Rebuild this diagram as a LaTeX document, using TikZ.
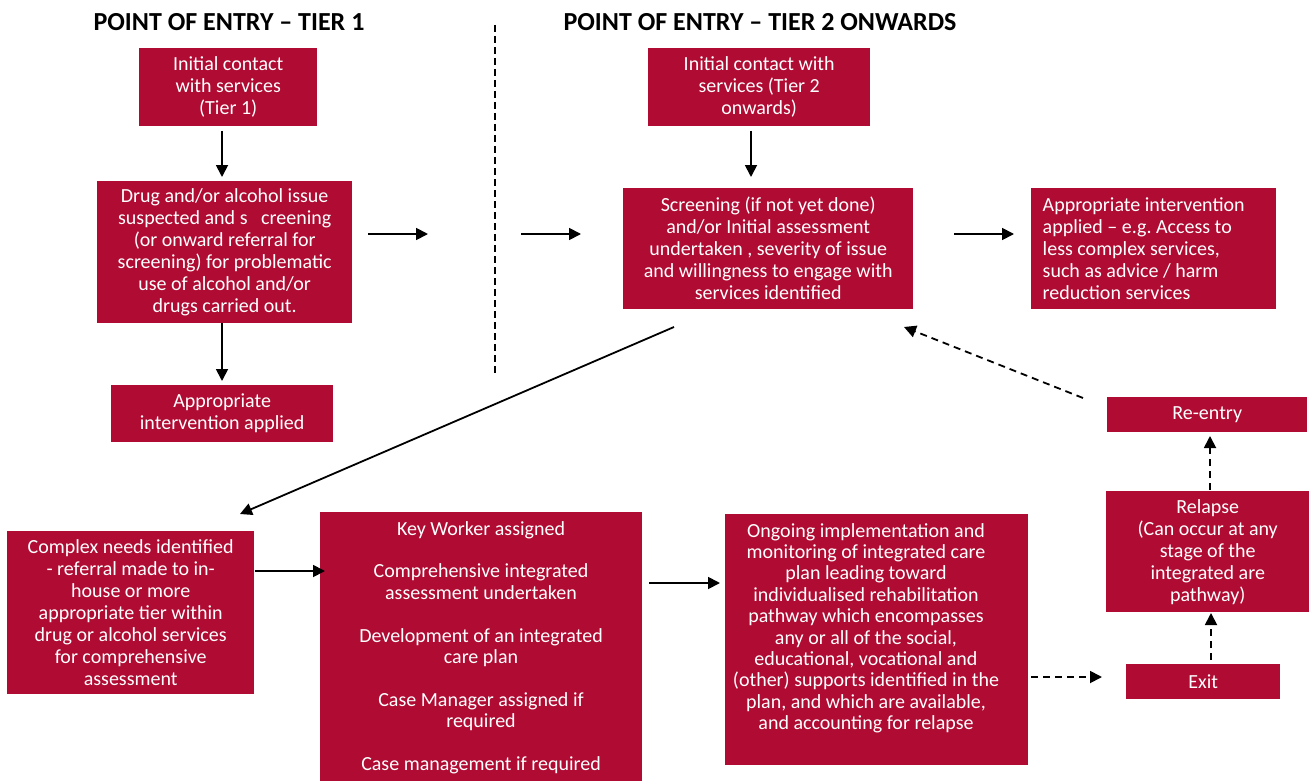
\documentclass[tikz,border=0pt]{standalone}
\usepackage{fontspec}
\setmainfont{Carlito}
\usetikzlibrary{arrows.meta}
\definecolor{crim}{RGB}{176,11,50}
\begin{document}
\begin{tikzpicture}[x=1pt,y=-1pt,
  box/.style={fill=crim,text=white,inner sep=0pt,anchor=north west,align=center,font=\fontsize{20}{22}\selectfont},
  txt/.style={text=white,inner sep=0pt,align=center,font=\fontsize{20}{21.4}\selectfont},
  head/.style={inner sep=0pt,font=\fontsize{26}{28}\selectfont\bfseries},
  arr/.style={-{Triangle[length=12pt,width=12pt]},line width=1.8pt},
  darr/.style={arr,dash pattern=on 7pt off 5pt}]
\useasboundingbox[fill=white] (0,0) rectangle (1309,781);

\node[head] (h1) at (229,22) {POINT OF ENTRY – TIER 1};
\node[head] (h2) at (760,22) {POINT OF ENTRY – TIER 2 ONWARDS};

\node[box,minimum width=178pt,minimum height=78pt] (t1) at (139,48) {Initial contact\\with services\\(Tier 1)};
\node[box,minimum width=255pt,minimum height=142pt] (drug) at (97,181) {Drug and/or alcohol issue\\suspected and s\ \ \ creening\\(or onward referral for\\screening) for problematic\\use of alcohol and/or\\drugs carried out.};
\node[box,minimum width=222pt,minimum height=57pt] (app1) at (111,385) {Appropriate\\intervention applied};

\node[box,minimum width=222pt,minimum height=78pt] (t2) at (648,48) {Initial contact with\\services (Tier 2\\onwards)};
\node[box,minimum width=290pt,minimum height=121pt] (scr) at (623,188) {Screening (if not yet done)\\and/or Initial assessment\\undertaken , severity of issue\\and willingness to engage with\\services identified};
\node[box,minimum width=245pt,minimum height=121pt,text width=222pt,align=flush left] (app2) at (1031,188) {Appropriate intervention\\applied – e.g.\ Access to\\less complex services,\\such as advice / harm\\reduction services};
\node[box,minimum width=200pt,minimum height=35pt] (re) at (1107,397) {Re-entry};

\node[box,minimum width=247pt,minimum height=163pt] (cx) at (7,531) {Complex needs identified\\- referral made to in-\\house or more\\appropriate tier within\\drug or alcohol services\\for comprehensive\\assessment};
\node[box,minimum width=322pt,minimum height=275pt] (kw) at (320,512) {};
\node[txt,anchor=north] (kwt) at (481,521) {Key Worker assigned\\[21.5pt]Comprehensive integrated\\assessment undertaken\\[21.5pt]Development of an integrated\\care plan\\[21.5pt]Case Manager assigned if\\required\\[21.5pt]Case management if required};
\node[box,minimum width=303pt,minimum height=251pt] (ong) at (725,514) {};
\node[txt,anchor=north] (ongt) at (866,523) {Ongoing implementation and\\monitoring of integrated care\\plan leading toward\\individualised rehabilitation\\pathway which encompasses\\any or all of the social,\\educational, vocational and\\(other) supports identified in the\\plan, and which are available,\\and accounting for relapse};
\node[box,minimum width=203pt,minimum height=121pt] (rel) at (1106,491) {Relapse\\(Can occur at any\\stage of the\\integrated are\\pathway)};
\node[box,minimum width=154pt,minimum height=35pt] (ex) at (1126,664) {Exit};

% divider
\coordinate (d1) at (495,25); \coordinate (d2) at (495,373);
\draw[line width=1.6pt,dash pattern=on 7pt off 4pt] (d1) -- (d2);

% connector endpoints
\coordinate (a1s) at (222,131); \coordinate (a1e) at (222,177);
\coordinate (a2s) at (222,323); \coordinate (a2e) at (222,381);
\coordinate (a3s) at (368,234); \coordinate (a3e) at (428,234);
\coordinate (a4s) at (521,234); \coordinate (a4e) at (581,234);
\coordinate (a5s) at (751,131); \coordinate (a5e) at (751,177);
\coordinate (a6s) at (954,234); \coordinate (a6e) at (1014,234);
\coordinate (a7s) at (674,327); \coordinate (a7e) at (240,514);
\coordinate (a8s) at (1083,398); \coordinate (a8e) at (904,327);
\coordinate (a9s) at (255,571); \coordinate (a9e) at (325,571);
\coordinate (a10s) at (649,583); \coordinate (a10e) at (720,583);
\coordinate (a11s) at (1031,677); \coordinate (a11e) at (1102,677);
\coordinate (a12s) at (1211,660); \coordinate (a12e) at (1211,613);
\coordinate (a13s) at (1210,490); \coordinate (a13e) at (1210,436);

\draw[arr] (a1s) -- (a1e);
\draw[arr] (a2s) -- (a2e);
\draw[arr] (a3s) -- (a3e);
\draw[arr] (a4s) -- (a4e);
\draw[arr] (a5s) -- (a5e);
\draw[arr] (a6s) -- (a6e);
\draw[arr] (a7s) -- (a7e);
\draw[darr] (a8s) -- (a8e);
\draw[arr] (a9s) -- (a9e);
\draw[arr] (a10s) -- (a10e);
\draw[darr] (a11s) -- (a11e);
\draw[darr] (a12s) -- (a12e);
\draw[darr] (a13s) -- (a13e);
\end{tikzpicture}
\end{document}
